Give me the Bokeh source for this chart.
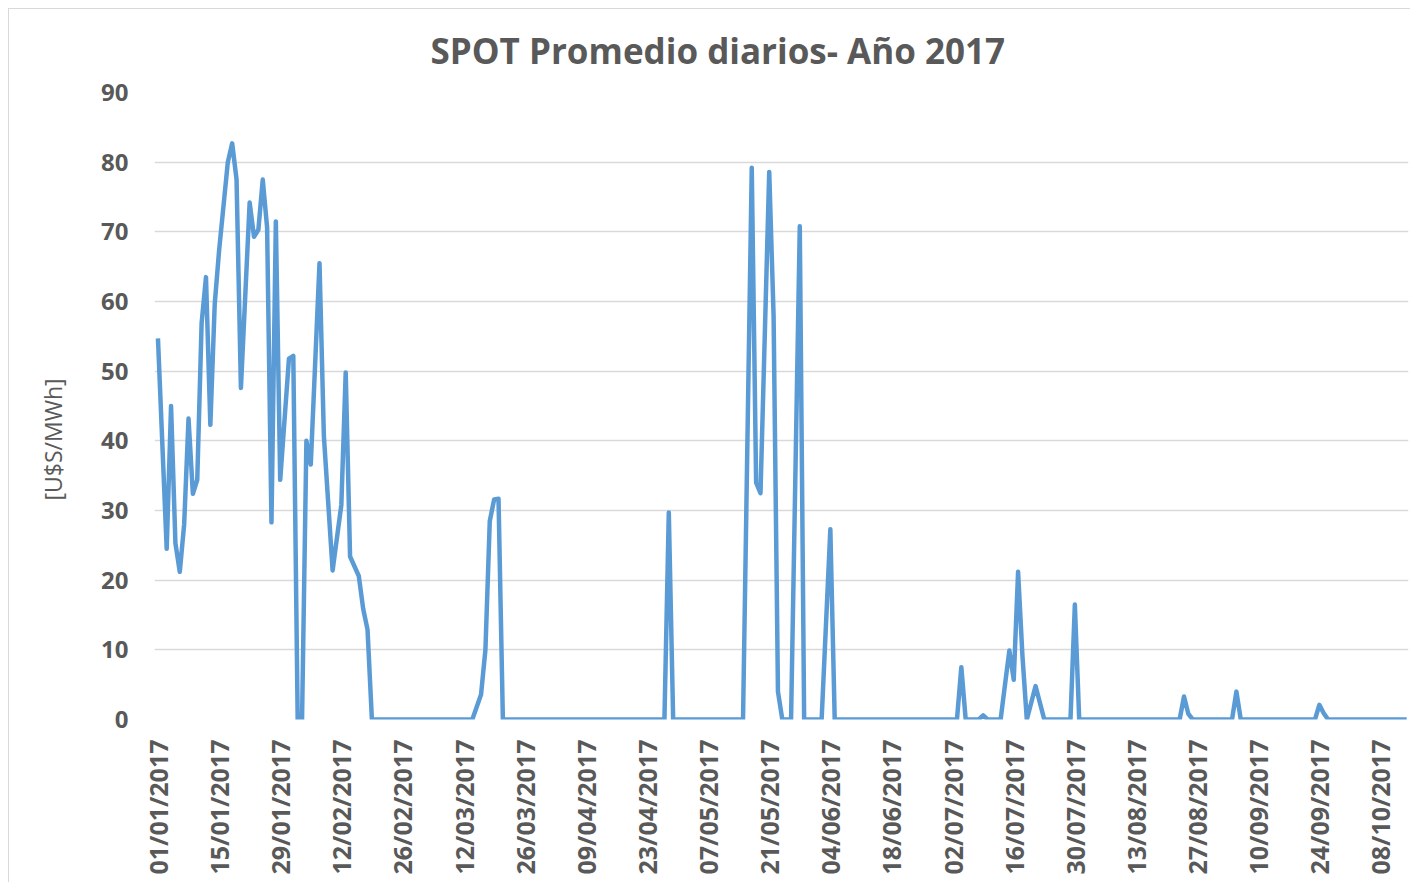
import math
from datetime import datetime, timedelta
from bokeh.plotting import figure
from bokeh.models import Range1d, FixedTicker, DatetimeTickFormatter, Title
from bokeh.embed import file_html
from bokeh.resources import INLINE

# ---- data ----
titulo = "SPOT Promedio diarios- Año 2017"
eje_y = "[U$S/MWh]"

fechas = [
    "01/01/2017", "03/01/2017", "04/01/2017", "05/01/2017", "06/01/2017", "07/01/2017",
    "08/01/2017", "09/01/2017", "10/01/2017", "11/01/2017", "12/01/2017", "13/01/2017",
    "14/01/2017", "15/01/2017", "17/01/2017", "18/01/2017", "19/01/2017", "20/01/2017",
    "22/01/2017", "23/01/2017", "24/01/2017", "25/01/2017", "26/01/2017", "27/01/2017",
    "28/01/2017", "29/01/2017", "31/01/2017", "01/02/2017", "02/02/2017", "03/02/2017",
    "04/02/2017", "05/02/2017", "07/02/2017", "08/02/2017", "10/02/2017", "12/02/2017",
    "13/02/2017", "14/02/2017", "16/02/2017", "17/02/2017", "18/02/2017", "19/02/2017",
    "14/03/2017", "16/03/2017", "17/03/2017", "18/03/2017", "19/03/2017", "20/03/2017",
    "21/03/2017",
    "27/04/2017", "28/04/2017", "29/04/2017",
    "15/05/2017", "17/05/2017", "18/05/2017", "19/05/2017", "21/05/2017", "22/05/2017",
    "23/05/2017", "24/05/2017", "26/05/2017", "28/05/2017", "29/05/2017",
    "02/06/2017", "04/06/2017", "05/06/2017",
    "03/07/2017", "04/07/2017", "05/07/2017", "08/07/2017", "09/07/2017", "10/07/2017",
    "13/07/2017", "14/07/2017", "15/07/2017", "16/07/2017", "17/07/2017", "18/07/2017",
    "19/07/2017", "21/07/2017", "23/07/2017", "29/07/2017", "30/07/2017", "31/07/2017",
    "23/08/2017", "24/08/2017", "25/08/2017", "26/08/2017",
    "04/09/2017", "05/09/2017", "06/09/2017",
    "23/09/2017", "24/09/2017", "25/09/2017", "26/09/2017",
    "14/10/2017",
]
spot = [
    54.7, 24.5, 45.0, 25.3, 21.2, 28.0,
    43.2, 32.4, 34.4, 56.9, 63.5, 42.3,
    59.6, 67.3, 80.0, 82.7, 77.5, 47.6,
    74.2, 69.3, 70.3, 77.5, 70.6, 28.3,
    71.5, 34.4, 51.8, 52.2, 0.0, 0.0,
    40.0, 36.6, 65.5, 40.7, 21.4, 30.8,
    49.8, 23.4, 20.6, 15.9, 12.9, 0.0,
    0.0, 3.6, 10.0, 28.5, 31.6, 31.7,
    0.0,
    0.0, 29.7, 0.0,
    0.0, 79.2, 34.0, 32.5, 78.6, 58.0,
    4.0, 0.0, 0.0, 70.8, 0.0,
    0.0, 27.3, 0.0,
    0.0, 7.5, 0.0, 0.0, 0.6, 0.0,
    0.0, 5.0, 9.9, 5.7, 21.2, 9.1,
    0.0, 4.8, 0.0, 0.0, 16.5, 0.0,
    0.0, 3.3, 0.8, 0.0,
    0.0, 4.0, 0.0,
    0.0, 2.1, 0.9, 0.0,
    0.0,
]
etiquetas_x = [
    "01/01/2017", "15/01/2017", "29/01/2017", "12/02/2017", "26/02/2017", "12/03/2017",
    "26/03/2017", "09/04/2017", "23/04/2017", "07/05/2017", "21/05/2017", "04/06/2017",
    "18/06/2017", "02/07/2017", "16/07/2017", "30/07/2017", "13/08/2017", "27/08/2017",
    "10/09/2017", "24/09/2017", "08/10/2017",
]
ticks_y = [0, 10, 20, 30, 40, 50, 60, 70, 80, 90]

# ---- build ----
EPOCH = datetime(1970, 1, 1)
def parse(s):
    return datetime.strptime(s, "%d/%m/%Y")
def ms(d):
    return (d - EPOCH).total_seconds() * 1000.0

x = [parse(f) for f in fechas]
ticks_x = [ms(parse(t)) for t in etiquetas_x]

GRAY = "#595959"
GRID = "#d9d9d9"
FONT = "Open Sans"

p = figure(
    width=1402, height=874,
    x_axis_type="datetime",
    output_backend="svg", toolbar_location=None,
    min_border_left=145, min_border_right=3,
    min_border_top=83, min_border_bottom=164,
)
p.styles = {
    "margin-left": "8px", "margin-top": "8px",
    "border-top": "1px solid #d9d9d9", "border-left": "1px solid #d9d9d9",
}
p.x_range = Range1d(ms(x[0] - timedelta(hours=19)), ms(x[-1] + timedelta(hours=10)))
p.y_range = Range1d(min(ticks_y), max(ticks_y))

p.line(x, spot, line_color="#5B9BD5", line_width=4.5, line_join="round")

p.title.text = titulo
p.title.text_font = FONT
p.title.text_font_size = "35px"
p.title.text_font_style = "bold"
p.title.text_color = GRAY
p.title.align = "left"
p.title.offset = 276
p.title.standoff = 34
p.title.vertical_align = "top"

p.outline_line_color = None
p.background_fill_color = "white"
p.border_fill_color = "white"

p.xgrid.grid_line_color = None
p.ygrid.grid_line_color = GRID
p.ygrid.grid_line_width = 1.5

p.yaxis.ticker = FixedTicker(ticks=ticks_y)
p.xaxis.ticker = FixedTicker(ticks=ticks_x)
fmt = "%d/%m/%Y"
p.xaxis.formatter = DatetimeTickFormatter(
    microseconds=fmt, milliseconds=fmt, seconds=fmt, minsec=fmt, minutes=fmt,
    hourmin=fmt, hours=fmt, days=fmt, months=fmt, years=fmt)
p.xaxis.major_label_orientation = math.pi / 2

for ax in (p.xaxis, p.yaxis):
    ax.axis_line_color = None
    ax.major_tick_line_color = None
    ax.minor_tick_line_color = None
    ax.major_tick_out = 0
    ax.major_tick_in = 0
    ax.minor_tick_out = 0
    ax.major_label_text_font = FONT
    ax.major_label_text_font_style = "bold"
    ax.major_label_text_color = GRAY

p.yaxis.major_label_text_font_size = "24px"
p.xaxis.major_label_text_font_size = "25px"
p.yaxis.major_label_standoff = 26
p.xaxis.major_label_standoff = 20

# y-axis title, placed a little below the frame's middle as in the reference
p.add_layout(Title(
    text=eje_y, align="left", offset=219, standoff=55, vertical_align="top",
    text_font=FONT, text_font_size="23px", text_font_style="normal",
    text_color=GRAY,
), "left")

open("out.html", "w").write(file_html(p, INLINE))
